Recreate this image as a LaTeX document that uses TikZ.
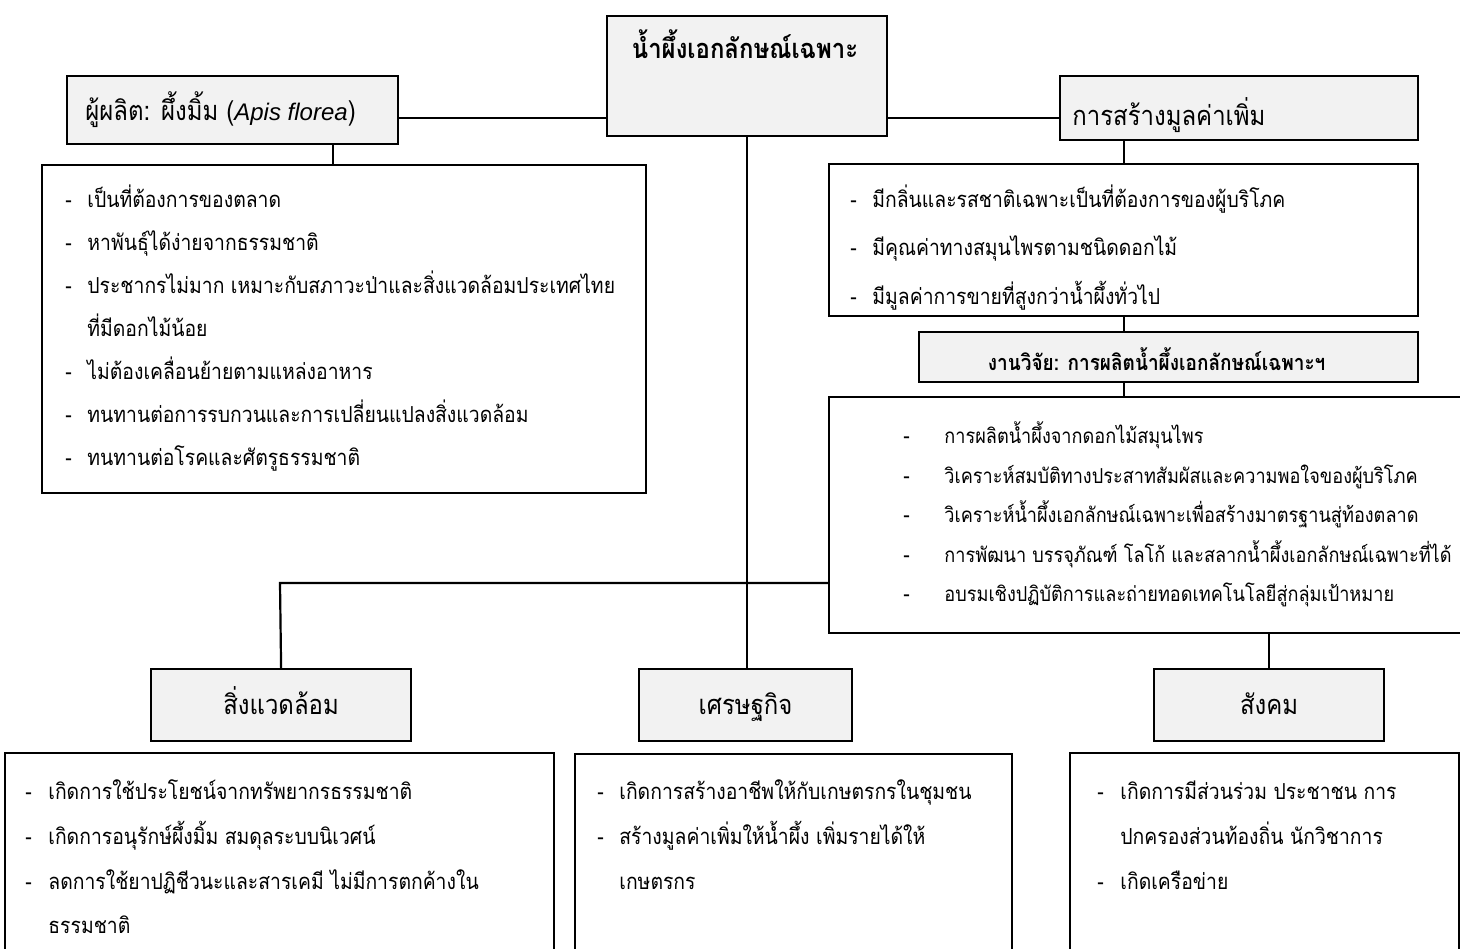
\documentclass[tikz,border=0pt]{standalone}
\usepackage{fontspec}
\setmainfont[Script=Thai]{Loma}
\newfontfamily\thainarrow[Script=Thai, FakeStretch=0.88]{Loma}
\newfontfamily\latinsans{Liberation Sans}
\usetikzlibrary{positioning}
\definecolor{boxgray}{HTML}{F2F2F2}
\tikzset{
  frame/.style={draw, line width=1.1pt, anchor=north west, inner sep=0pt},
  greybox/.style={frame, fill=boxgray},
  link/.style={line width=1.1pt},
  itemtext/.style={anchor=base west, inner sep=0pt, font=\thainarrow\fontsize{11}{13}\selectfont},
  headtext/.style={inner sep=0pt, font=\thainarrow\fontsize{13.6}{16}\selectfont},
  sidehead/.style={greybox, minimum height=36pt, text height=11pt, text depth=2pt, font=\thainarrow\fontsize{13.6}{16}\selectfont},
}
\begin{document}
\begin{tikzpicture}[x=0.5pt, y=-0.5pt]
\useasboundingbox (0,0) rectangle (1460,948);
% Top box
\node[greybox, minimum width=140pt, minimum height=60pt] (top) at (606,15) {};
\node[headtext, anchor=base, font=\thainarrow\fontsize{13.6}{16}\selectfont\bfseries] (toptitle) at (745,58) {น้ำผึ้งเอกลักษณ์เฉพาะ};
% Producer and added value
\node[greybox, minimum width=165.5pt, minimum height=34pt] (prod) at (66,75) {};
\node[headtext, anchor=base west] (prodtext) at (85,120) {ผู้ผลิต: ผึ้งมิ้ม ({\latinsans\fontsize{12}{14}\selectfont\itshape Apis florea})};
\node[greybox, minimum width=179pt, minimum height=32pt] (value) at (1059,75) {};
\node[headtext, anchor=base west] (valuetext) at (1072,125) {การสร้างมูลค่าเพิ่ม};
\coordinate (hub) at (745,118);
\draw[link] (prod.east |- hub) -- (top.west |- hub);
\draw[link] (top.east |- hub) -- (value.west |- hub);
% Producer list
\node[frame, minimum width=302pt, minimum height=164pt] (prodlist) at (41,164) {};
\coordinate (prodjoin) at (333,143);
\draw[link] (prodjoin) -- (prodjoin |- prodlist.north);
\foreach \y/\d/\t [count=\i] in {
  207/-/เป็นที่ต้องการของตลาด,
  250/-/หาพันธุ์ได้ง่ายจากธรรมชาติ,
  293/-/ประชากรไม่มาก เหมาะกับสภาวะป่าและสิ่งแวดล้อมประเทศไทย,
  336//ที่มีดอกไม้น้อย,
  379/-/ไม่ต้องเคลื่อนย้ายตามแหล่งอาหาร,
  422/-/ทนทานต่อการรบกวนและการเปลี่ยนแปลงสิ่งแวดล้อม,
  465/-/ทนทานต่อโรคและศัตรูธรรมชาติ}
{
  \node[itemtext] (pd\i) at (65,\y) {\d};
  \node[itemtext] (pt\i) at (87,\y) {\t};
}
% Added value list
\node[frame, minimum width=294.5pt, minimum height=76pt] (valuelist) at (828,163) {};
\draw[link] (valuelist.north) -- (valuelist.north |- value.south);
\foreach \y/\t [count=\i] in {
  207/มีกลิ่นและรสชาติเฉพาะเป็นที่ต้องการของผู้บริโภค,
  255/มีคุณค่าทางสมุนไพรตามชนิดดอกไม้,
  304/มีมูลค่าการขายที่สูงกว่าน้ำผึ้งทั่วไป}
{
  \node[itemtext] (vd\i) at (850,\y) {-};
  \node[itemtext] (vt\i) at (872,\y) {\t};
}
% Research
\node[greybox, minimum width=249.5pt, minimum height=25pt, text height=14pt, text depth=1pt,
  font=\thainarrow\fontsize{10.8}{12}\selectfont\bfseries] (restitle) at (918,331) {งานวิจัย: การผลิตน้ำผึ้งเอกลักษณ์เฉพาะฯ\hspace*{12pt}};
\draw[link] (valuelist.south) -- (valuelist.south |- restitle.north);
\node[frame, minimum width=325pt, minimum height=118pt] (reslist) at (828,396) {};
\draw[link] (restitle.south -| valuelist.south) -- (reslist.north -| valuelist.south);
\foreach \y/\t [count=\i] in {
  443/การผลิตน้ำผึ้งจากดอกไม้สมุนไพร,
  483/วิเคราะห์สมบัติทางประสาทสัมผัสและความพอใจของผู้บริโภค,
  522/วิเคราะห์น้ำผึ้งเอกลักษณ์เฉพาะเพื่อสร้างมาตรฐานสู่ท้องตลาด,
  562/การพัฒนา บรรจุภัณฑ์ โลโก้ และสลากน้ำผึ้งเอกลักษณ์เฉพาะที่ได้,
  601/อบรมเชิงปฏิบัติการและถ่ายทอดเทคโนโลยีสู่กลุ่มเป้าหมาย}
{
  \node[itemtext] (rd\i) at (903,\y) {-};
  \node[itemtext, font=\thainarrow\fontsize{10.3}{12}\selectfont] (rt\i) at (944,\y) {\t};
}
% Outcomes
\node[sidehead, minimum width=130pt] (env) at (150,668) {สิ่งแวดล้อม};
\node[sidehead, minimum width=106.5pt] (econ) at (638,668) {เศรษฐกิจ};
\node[sidehead, minimum width=115pt] (social) at (1153,668) {สังคม};
\draw[link] (top.south) -- (top.south |- econ.north);
\coordinate (fork) at (280,583);
\draw[link] (fork -| reslist.west) -- (fork) -- (env.north);
\draw[link] (social.north) -- (social.north |- reslist.south);
\node[frame, minimum width=274.5pt, minimum height=110pt] (envlist) at (4,752) {};
\node[frame, minimum width=218.5pt, minimum height=110pt] (econlist) at (574,753) {};
\node[frame, minimum width=194.5pt, minimum height=110pt] (soclist) at (1069,752) {};
\foreach \y/\d/\t [count=\i] in {
  799/-/เกิดการใช้ประโยชน์จากทรัพยากรธรรมชาติ,
  844/-/เกิดการอนุรักษ์ผึ้งมิ้ม สมดุลระบบนิเวศน์,
  889/-/ลดการใช้ยาปฏิชีวนะและสารเคมี ไม่มีการตกค้างใน,
  933//ธรรมชาติ}
{
  \node[itemtext] (ed\i) at (25,\y) {\d};
  \node[itemtext] (et\i) at (48,\y) {\t};
}
\foreach \y/\d/\t [count=\i] in {
  799/-/เกิดการสร้างอาชีพให้กับเกษตรกรในชุมชน,
  844/-/สร้างมูลค่าเพิ่มให้น้ำผึ้ง เพิ่มรายได้ให้,
  889//เกษตรกร}
{
  \node[itemtext] (cd\i) at (597,\y) {\d};
  \node[itemtext] (ct\i) at (619,\y) {\t};
}
\foreach \y/\d/\t [count=\i] in {
  799/-/เกิดการมีส่วนร่วม ประชาชน การ,
  844//ปกครองส่วนท้องถิ่น นักวิชาการ,
  889/-/เกิดเครือข่าย}
{
  \node[itemtext] (sd\i) at (1097,\y) {\d};
  \node[itemtext] (st\i) at (1120,\y) {\t};
}
\end{tikzpicture}
\end{document}
